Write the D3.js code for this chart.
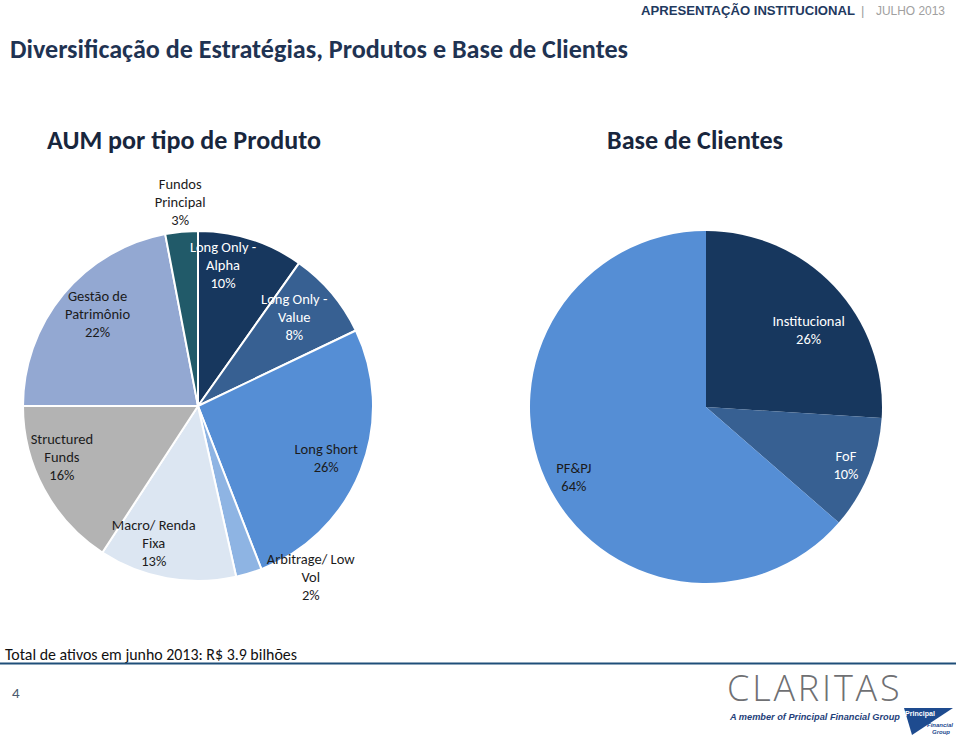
<!DOCTYPE html>
<html>
<head>
<meta charset="utf-8">
<script src="https://cdn.jsdelivr.net/npm/d3@7/dist/d3.min.js"></script>
<style>
  html, body { margin: 0; padding: 0; background: #fff; }
  svg { display: block; }
  text { font-family: Carlito, Lato, "Open Sans", sans-serif; }
</style>
</head>
<body>
<svg id="chart" width="960" height="740"></svg>
<script>
// ---------- DATA ----------
const produtoCategories = ["Long Only - Alpha", "Long Only - Value", "Long Short", "Arbitrage/ Low Vol",
                           "Macro/ Renda Fixa", "Structured Funds", "Gestão de Patrimônio", "Fundos Principal"];
const produtoValues = [9.8, 8.1, 26.2, 2.4, 12.7, 15.8, 22.0, 3.0];
const produtoLabelLines = [["Long Only -", "Alpha"], ["Long Only -", "Value"], ["Long Short"], ["Arbitrage/ Low", "Vol"],
                           ["Macro/ Renda", "Fixa"], ["Structured", "Funds"], ["Gestão de", "Patrimônio"], ["Fundos", "Principal"]];

const clientesCategories = ["Institucional", "FoF", "PF&PJ"];
const clientesValues = [26.0, 10.4, 63.6];
const clientesLabelLines = [["Institucional"], ["FoF"], ["PF&PJ"]];

const pageTexts = {
  header: "APRESENTAÇÃO INSTITUCIONAL",
  headerDate: "JULHO 2013",
  title: "Diversificação de Estratégias, Produtos e Base de Clientes",
  leftTitle: "AUM por tipo de Produto",
  rightTitle: "Base de Clientes",
  footer: "Total de ativos em junho 2013: R$ 3.9 bilhões",
  page: "4"
};

// ---------- STYLE / LAYOUT ----------
const produtoColors = ["#17375E", "#376092", "#558ED5", "#8EB4E3", "#DCE6F2", "#B3B3B3", "#93A8D2", "#215A69"];
const produtoTextColors = ["#fff", "#fff", "#1b1b1b", "#1b1b1b", "#1b1b1b", "#1b1b1b", "#1b1b1b", "#1b1b1b"];
// label placement: radius factor and angular nudge (degrees)
const produtoLabelLayout = [
  {rf: 0.82, da: -7.6}, {rf: 0.75, da: -2.7}, {rf: 0.79, da: 0.4}, {rf: 1.17, da: -16.5},
  {rf: 0.82, da: 7.7}, {rf: 0.83, da: 8}, {rf: 0.78, da: 3}, {rf: 1.17, da: 0.4}
];
const clientesColors = ["#17375E", "#376092", "#558ED5"];
const clientesTextColors = ["#fff", "#fff", "#1b1b1b"];
const clientesLabelLayout = [{rf: 0.73, da: 6.2}, {rf: 0.86, da: 0.1}, {rf: 0.85, da: -3.5}];

const svg = d3.select("#chart");
const arialFam = "'Liberation Sans', Arial, sans-serif";

function fitText(sel, target) {
  const node = sel.node();
  const w = node.getComputedTextLength();
  const fs = parseFloat(sel.attr("font-size"));
  sel.attr("font-size", (fs * target / w).toFixed(2));
}

// ---------- HEADER ----------
const hdr = svg.append("text").attr("x", 855).attr("y", 15).attr("text-anchor", "end")
  .attr("font-weight", "bold").attr("font-size", 13).attr("fill", "#1F3A5F")
  .style("font-family", arialFam).text(pageTexts.header);
fitText(hdr, 214);
svg.append("text").attr("x", 861).attr("y", 15).attr("font-size", 13).attr("fill", "#a0a0a0")
  .style("font-family", arialFam).text("|");
const hd2 = svg.append("text").attr("x", 945).attr("y", 15).attr("text-anchor", "end")
  .attr("font-size", 13).attr("fill", "#a0a0a0")
  .style("font-family", arialFam).text(pageTexts.headerDate);
fitText(hd2, 69);

const title = svg.append("text").attr("x", 10).attr("y", 58).attr("font-size", 22)
  .attr("font-weight", "bold").attr("fill", "#1F3352").text(pageTexts.title);
fitText(title, 618);

const lt = svg.append("text").attr("x", 184).attr("y", 149).attr("text-anchor", "middle")
  .attr("font-size", 24).attr("font-weight", "bold").attr("fill", "#18263D").text(pageTexts.leftTitle);
fitText(lt, 274);
const rt = svg.append("text").attr("x", 695).attr("y", 149).attr("text-anchor", "middle")
  .attr("font-size", 24).attr("font-weight", "bold").attr("fill", "#18263D").text(pageTexts.rightTitle);
fitText(rt, 176);

// ---------- PIES ----------
function drawPie(cfg) {
  const g = svg.append("g").attr("transform", `translate(${cfg.cx},${cfg.cy})`);
  const pie = d3.pie().sort(null).value(d => d)(cfg.values);
  const arc = d3.arc().innerRadius(0).outerRadius(cfg.r);
  const color = d3.scaleOrdinal().domain(d3.range(cfg.values.length)).range(cfg.colors);
  g.selectAll("path").data(pie).join("path")
    .attr("d", arc)
    .attr("fill", (d, i) => color(i))
    .attr("stroke", cfg.stroke)
    .attr("stroke-width", cfg.strokeWidth)
    .attr("stroke-linejoin", "round");

  const lineH = 18;
  pie.forEach((d, i) => {
    const lay = cfg.layout[i];
    const a = (d.startAngle + d.endAngle) / 2 + lay.da * Math.PI / 180;
    const rr = cfg.r * lay.rf;
    const x = rr * Math.sin(a), y = -rr * Math.cos(a);
    const lines = cfg.lines[i].concat([Math.round(cfg.values[i]) + "%"]);
    const t = g.append("text").attr("text-anchor", "middle")
      .attr("font-size", 14.5).attr("fill", cfg.textColors[i]);
    lines.forEach((ln, k) => {
      t.append("tspan").attr("x", x)
        .attr("y", y + (k - (lines.length - 1) / 2) * lineH + 5)
        .text(ln);
    });
  });
}

drawPie({cx: 198, cy: 406, r: 175, values: produtoValues, colors: produtoColors,
         textColors: produtoTextColors, lines: produtoLabelLines, layout: produtoLabelLayout,
         stroke: "#fff", strokeWidth: 2});
drawPie({cx: 706, cy: 407, r: 176, values: clientesValues, colors: clientesColors,
         textColors: clientesTextColors, lines: clientesLabelLines, layout: clientesLabelLayout,
         stroke: "none", strokeWidth: 0});

// ---------- FOOTER ----------
const ft = svg.append("text").attr("x", 5).attr("y", 660).attr("font-size", 16).attr("fill", "#111")
  .text(pageTexts.footer);
fitText(ft, 292);
svg.append("line").attr("x1", 0).attr("x2", 956).attr("y1", 663.5).attr("y2", 663.5)
  .attr("stroke", "#1F4E79").attr("stroke-width", 2);
svg.append("text").attr("x", 12).attr("y", 698).attr("font-size", 15).attr("fill", "#4a5a6e").text(pageTexts.page);

// Logo
svg.append("text").attr("x", 727).attr("y", 701).attr("font-size", 36).attr("fill", "#6f7073")
  .attr("letter-spacing", 2.8)
  .style("font-family", "'Open Sans', Lato, sans-serif").attr("font-weight", 300).text("CLARITAS");
const mem = svg.append("text").attr("x", 730).attr("y", 720).attr("font-size", 11).attr("font-weight", "bold")
  .attr("font-style", "italic").attr("fill", "#1F3F7A")
  .style("font-family", "'Liberation Sans Narrow', 'Liberation Sans', Arial, sans-serif")
  .text("A member of Principal Financial Group");
fitText(mem, 170);
svg.append("polygon").attr("points", "904,708 953,708 912,735").attr("fill", "#1E4B8F");
const pr = svg.append("text").attr("x", 905).attr("y", 716).attr("font-size", 7).attr("font-weight", "bold")
  .attr("fill", "#fff").style("font-family", arialFam).text("Principal");
fitText(pr, 30);
svg.append("text").attr("x", 953).attr("y", 727).attr("text-anchor", "end").attr("font-size", 6)
  .attr("font-weight", "bold").attr("font-style", "italic").attr("fill", "#1E4B8F")
  .style("font-family", arialFam).text("Financial");
svg.append("text").attr("x", 950).attr("y", 734).attr("text-anchor", "end").attr("font-size", 6)
  .attr("font-weight", "bold").attr("font-style", "italic").attr("fill", "#1E4B8F")
  .style("font-family", arialFam).text("Group");
</script>
</body>
</html>
